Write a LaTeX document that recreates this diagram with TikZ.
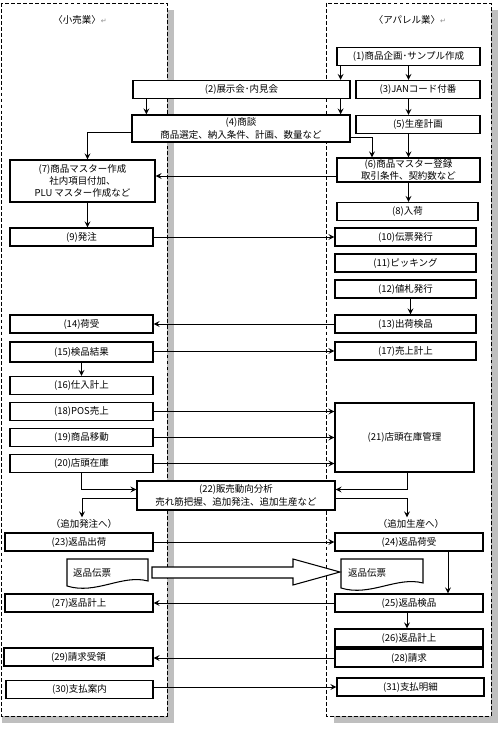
\documentclass[tikz,border=0pt]{standalone}
\usepackage{fontspec}
\newfontfamily\jpfont{Noto Sans CJK JP}
\newfontfamily\symfont{DejaVu Sans}
\usetikzlibrary{arrows, positioning}
\newcommand{\retmark}{{\symfont\fontsize{4}{4}\selectfont\color{black!45}↵}}
\tikzstyle{process} = [rectangle, minimum height=0.36cm, inner sep=0pt, text centered, align=center, draw=black, line width=0.7pt, fill=white, font=\jpfont\fontsize{5.4}{7}\selectfont]
\tikzstyle{lbox} = [process, minimum width=2.86cm]
\tikzstyle{rbox} = [process, minimum width=2.82cm]
\tikzstyle{wbox} = [process, minimum width=2.96cm]
\tikzstyle{note} = [inner sep=1pt, font=\jpfont\fontsize{5.4}{7}\selectfont]
\tikzstyle{lane} = [draw=black, line width=0.5pt, dash pattern=on 2.2pt off 1.2pt, fill=white]
\tikzstyle{laneshadow} = [fill=black!25]
\tikzstyle{paper} = [draw=black, line width=0.6pt, fill=white]
\tikzstyle{arrow} = [line width=0.5pt,->,>=stealth]

\begin{document}
\begin{tikzpicture}[x=0.02cm, y=-0.02cm]
	\useasboundingbox (0,0) rectangle (500,750);
	\fill [laneshadow] (2,10) rectangle (174,723);
	\fill [laneshadow] (334,10) rectangle (498,723);
	\draw [lane] (1,3) rectangle (167,716);
	\draw [lane] (326,3) rectangle (491,716);
	\node (retail) [note] at (80,20) {〈小売業〉\retmark};
	\node (apparel) [note] at (410,20) {〈アパレル業〉\retmark};

	\node (n1) [process, minimum width=2.86cm] at (408.5,56.5) {(1)商品企画･サンプル作成};
	\node (n2) [process, minimum width=4.34cm] at (241.5,89.5) {(2)展示会･内見会};
	\node (n3) [process, minimum width=2.48cm] at (418,89.5) {(3)JANコード付番};
	\node (n4) [process, minimum width=4.36cm, minimum height=0.54cm] at (241,128.5) {(4)商談\\商品選定、納入条件、計画、数量など};
	\node (n5) [process, minimum width=2.48cm] at (418,124.5) {(5)生産計画};
	\node (n6) [process, minimum width=2.86cm, minimum height=0.48cm] at (408.5,170) {(6)商品マスター登録\\取引条件、契約数など};
	\node (n7) [lbox, minimum width=2.9cm, minimum height=0.84cm] at (82.5,181) {(7)商品マスター作成\\社内項目付加、\\PLU マスター作成など};
	\node (n8) [rbox] at (407.5,211.5) {(8)入荷};
	\node (n9) [lbox] at (81.5,237) {(9)発注};
	\node (n10) [rbox] at (405.5,237) {(10)伝票発行};
	\node (n11) [rbox] at (405.5,263) {(11)ピッキング};
	\node (n12) [rbox] at (405.5,289) {(12)値札発行};
	\node (n13) [rbox] at (405.5,324) {(13)出荷検品};
	\node (n14) [lbox] at (81.5,324) {(14)荷受};
	\node (n15) [lbox, minimum height=0.4cm] at (81.5,352) {(15)検品結果};
	\node (n17) [rbox] at (405.5,351) {(17)売上計上};
	\node (n16) [lbox] at (81.5,385.5) {(16)仕入計上};
	\node (n18) [lbox] at (81.5,411.5) {(18)POS売上};
	\node (n19) [lbox] at (81.5,437.5) {(19)商品移動};
	\node (n20) [lbox] at (81.5,463.5) {(20)店頭在庫};
	\node (n21) [rbox, minimum width=2.78cm, minimum height=1.38cm] at (404.5,437.5) {(21)店頭在庫管理};
	\node (n22) [process, minimum width=3.96cm, minimum height=0.58cm] at (236,495.5) {(22)販売動向分析\\売れ筋把握、追加発注、追加生産など};
	\node (more1) [note] at (84,524) {（追加発注へ）};
	\node (more2) [note] at (411,524) {（追加生産へ）};
	\node (n23) [wbox] at (79,542) {(23)返品出荷};
	\node (n24) [wbox] at (409,542) {(24)返品荷受};
	\draw [paper] (67,559) -- (148,559) -- (148,581) .. controls (122,574) and (96,595) .. (67,586) -- cycle;
	\draw [paper] (341,559) -- (423,559) -- (423,583) .. controls (397,576) and (370,597) .. (341,588) -- cycle;
	\node (slipL) [note, anchor=west] at (71,573) {返品伝票};
	\node (slipR) [note, anchor=west] at (346,573) {返品伝票};
	\draw [paper] (152,567) -- (293,567) -- (293,559) -- (340,572) -- (293,585) -- (293,578) -- (152,578) -- cycle;
	\node (n25) [wbox] at (409,603) {(25)返品検品};
	\node (n27) [wbox] at (79,603) {(27)返品計上};
	\node (n26) [wbox] at (409,638) {(26)返品計上};
	\node (n28) [wbox] at (409,658) {(28)請求};
	\node (n29) [wbox, minimum width=2.98cm] at (78.5,657) {(29)請求受領};
	\node (n30) [wbox, minimum width=2.94cm] at (79.5,689.5) {(30)支払案内};
	\node (n31) [wbox, minimum width=2.94cm] at (410.5,687) {(31)支払明細};

	\draw [arrow] ([xshift=-0.2cm]n2.north east |- n1.south) -- ([xshift=-0.2cm]n2.north east);
	\draw [arrow] (n1.south) -- (n1.south |- n3.north);
	\draw [arrow] ([xshift=-0.2cm]n2.south east) -- ([xshift=-0.2cm]n2.south east |- n4.north);
	\draw [arrow] ([xshift=0.28cm]n2.south west) -- ([xshift=0.28cm]n2.south west |- n4.north);
	\draw [arrow] (n1.south |- n3.south) -- (n1.south |- n5.north);
	\draw [arrow] ([yshift=-0.07cm]n4.west) -| ([xshift=0.1cm]n7.north);
	\draw [arrow] ([yshift=-0.17cm]n4.east) -| ([xshift=-0.73cm]n6.north);
	\draw [arrow] (n6.north |- n5.south) -- (n6.north);
	\draw [arrow] ([yshift=-0.12cm]n6.west) -- ([yshift=-0.12cm]n6.west -| n7.east);
	\draw [arrow] (n6.south) -- (n6.south |- n8.north);
	\draw [arrow] ([xshift=0.1cm]n7.south) -- ([xshift=0.1cm]n7.south |- n9.north);
	\draw [arrow] (n9.east) -- (n9.east -| n10.west);
	\draw [arrow] ([xshift=0.1cm]n12.south) -- ([xshift=0.1cm]n13.north);
	\draw [arrow] (n13.west) -- (n13.west -| n14.east);
	\draw [arrow] ([yshift=0.02cm]n15.east) -- ([yshift=0.02cm]n15.east -| n17.west);
	\draw [arrow] (n15.south) -- (n16.north);
	\draw [arrow] (n18.east) -- (n18.east -| n21.west);
	\draw [arrow] (n19.east) -- (n19.east -| n21.west);
	\draw [arrow] (n20.east) -- (n20.east -| n21.west);
	\draw [arrow] (n20.south) |- ([yshift=0.12cm]n22.west);
	\draw [arrow] ([yshift=-0.06cm]n22.west) -| ([xshift=-0.04cm]more1.north);
	\draw [arrow] ([xshift=0.06cm]n21.south) |- ([yshift=0.12cm]n22.east);
	\draw [arrow] ([yshift=-0.06cm]n22.east) -| ([xshift=-0.08cm]more2.north);
	\draw [arrow] (n23.east) -- (n23.east -| n24.west);
	\draw [arrow] ([xshift=0.78cm]n24.south) -- ([xshift=0.78cm]n25.north);
	\draw [arrow] (n25.west) -- (n25.west -| n27.east);
	\draw [arrow] ([xshift=-0.04cm]n25.south) -- ([xshift=-0.04cm]n26.north);
	\draw [arrow] (n28.west) -- (n28.west -| n29.east);
	\draw [arrow] ([yshift=0.05cm]n30.east) -- ([yshift=0.05cm]n30.east -| n31.west);
\end{tikzpicture}
\end{document}
